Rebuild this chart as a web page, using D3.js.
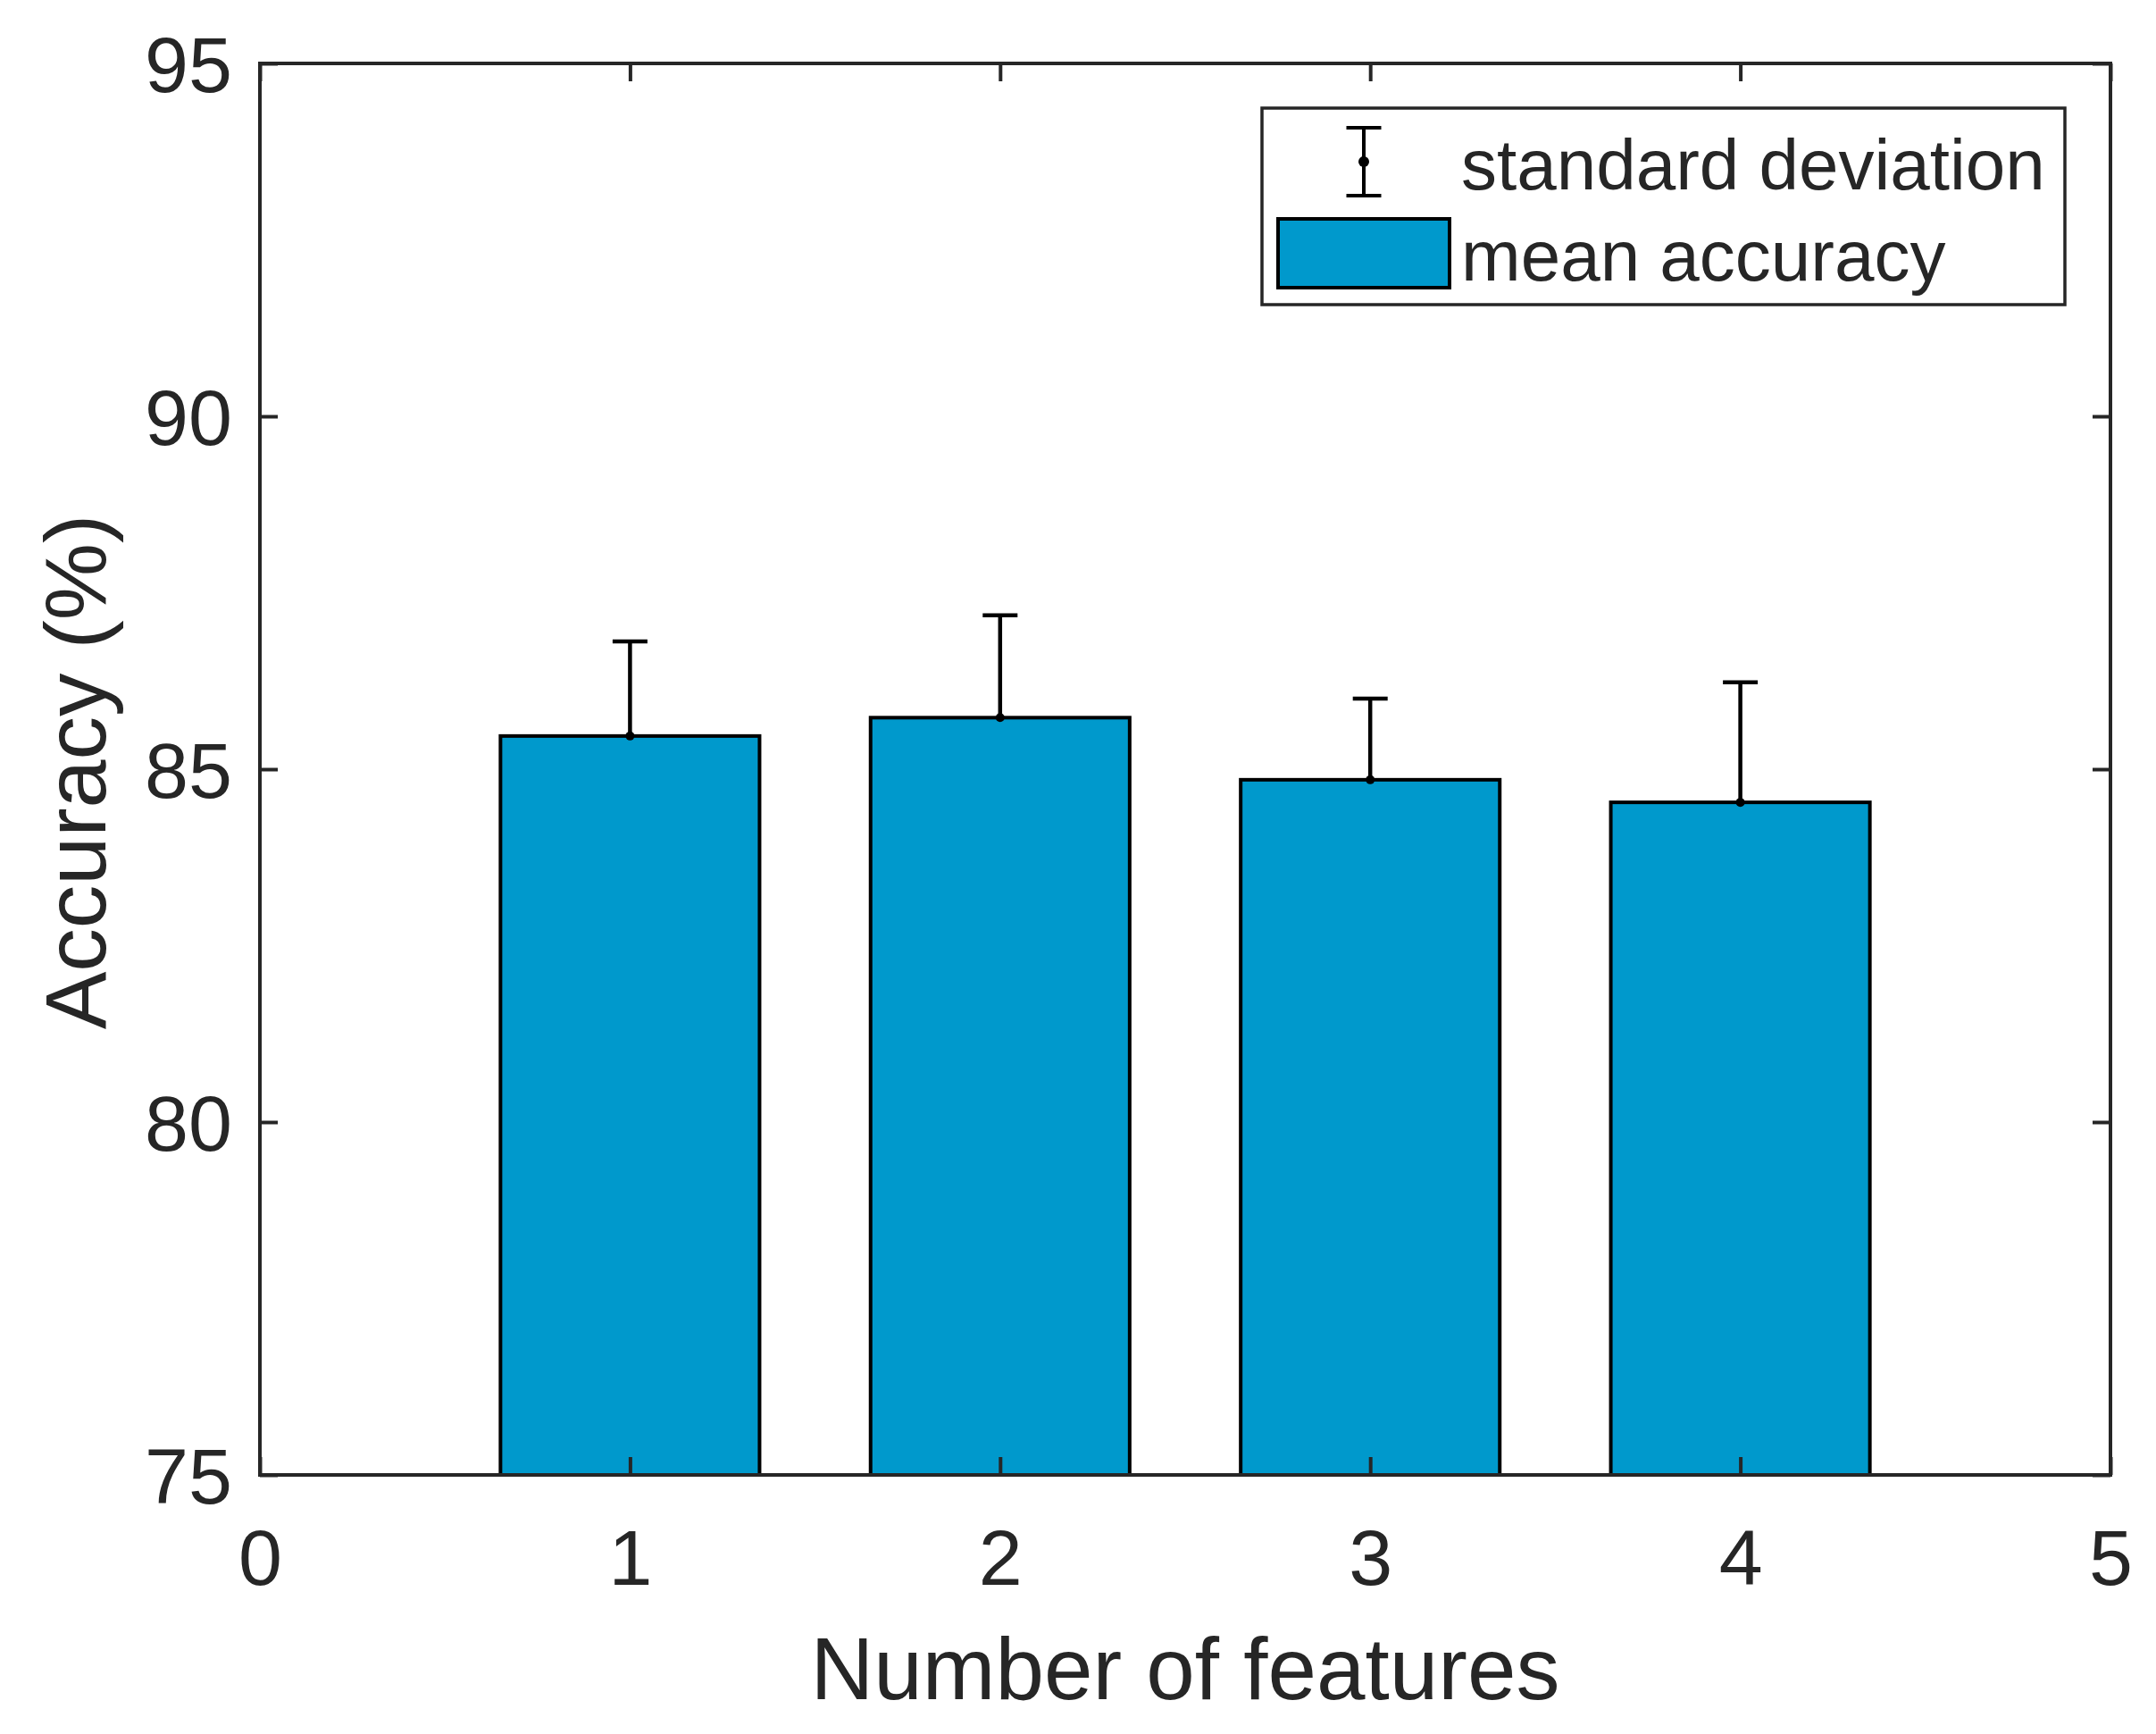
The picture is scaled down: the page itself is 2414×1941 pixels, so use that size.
<!DOCTYPE html>
<html>
<head>
<meta charset="utf-8">
<script src="https://cdn.jsdelivr.net/npm/d3@7"></script>
<style>
  html, body { margin: 0; padding: 0; background: #fff; }
  svg { display: block; }
  text { font-family: "Liberation Sans", Arial, Helvetica, sans-serif; fill: #262626; }
</style>
</head>
<body>
<svg id="chart" width="2414" height="1941"></svg>
<script>
// ---- data ----
const categories = [1, 2, 3, 4];
const meanAccuracy = [85.47, 85.73, 84.85, 84.53];
const stdDeviation = [1.34, 1.45, 1.15, 1.70];
const xTicks = [0, 1, 2, 3, 4, 5];
const yTicks = [75, 80, 85, 90, 95];
const legendLabels = ["standard deviation", "mean accuracy"];

// ---- layout ----
const plot = { left: 291, right: 2363, top: 71, bottom: 1651 };
const axisColor = "#262626";
const barColor = "#0099cc";

const svg = d3.select("#chart");

const x = d3.scaleLinear().domain([0, 5]).range([plot.left, plot.right]);
const y = d3.scaleLinear().domain([75, 95]).range([plot.bottom, plot.top]);
const barW = x(0.7) - x(0);

// bars
svg.append("g").selectAll("rect")
  .data(categories)
  .join("rect")
  .attr("x", (d) => x(d) - barW / 2)
  .attr("y", (d, i) => y(meanAccuracy[i]))
  .attr("width", barW)
  .attr("height", (d, i) => y(75) - y(meanAccuracy[i]))
  .attr("fill", barColor)
  .attr("stroke", "#000")
  .attr("stroke-width", 4);

// error bars (upper)
const eb = svg.append("g");
const capHalf = 19.5;
categories.forEach((c, i) => {
  const cx = x(c);
  const y0 = y(meanAccuracy[i]);
  const y1 = y(meanAccuracy[i] + stdDeviation[i]);
  eb.append("line").attr("x1", cx).attr("x2", cx).attr("y1", y0).attr("y2", y1)
    .attr("stroke", "#000").attr("stroke-width", 4.5);
  eb.append("line").attr("x1", cx - capHalf).attr("x2", cx + capHalf).attr("y1", y1).attr("y2", y1)
    .attr("stroke", "#000").attr("stroke-width", 4.5);
  eb.append("circle").attr("cx", cx).attr("cy", y0).attr("r", 5).attr("fill", "#000");
});

// axes
const tickFont = 88;
const xAxis = d3.axisBottom(x).tickValues(xTicks).tickFormat(d3.format("d"))
  .tickSizeInner(-20).tickSizeOuter(0).tickPadding(61);
const xTop = d3.axisTop(x).tickValues(xTicks).tickFormat("")
  .tickSizeInner(-20).tickSizeOuter(0);
const yAxis = d3.axisLeft(y).tickValues(yTicks).tickFormat(d3.format("d"))
  .tickSizeInner(-20).tickSizeOuter(0).tickPadding(31);
const yRight = d3.axisRight(y).tickValues(yTicks).tickFormat("")
  .tickSizeInner(-20).tickSizeOuter(0);

function styleAxis(g) {
  g.select(".domain").remove();
  g.selectAll(".tick line").attr("stroke", axisColor).attr("stroke-width", 4);
  g.selectAll(".tick text").attr("fill", axisColor)
    .style("font-size", tickFont + "px")
    .style("font-family", '"Liberation Sans", Arial, Helvetica, sans-serif');
}

svg.append("g").attr("transform", `translate(0,${plot.bottom})`).call(xAxis).call(styleAxis);
svg.append("g").attr("transform", `translate(0,${plot.top})`).call(xTop).call(styleAxis);
const gy = svg.append("g").attr("transform", `translate(${plot.left},0)`).call(yAxis).call(styleAxis);
gy.selectAll(".tick text").attr("dy", "0.36em");
svg.append("g").attr("transform", `translate(${plot.right},0)`).call(yRight).call(styleAxis);

// frame
svg.append("rect")
  .attr("x", plot.left).attr("y", plot.top)
  .attr("width", plot.right - plot.left).attr("height", plot.bottom - plot.top)
  .attr("fill", "none").attr("stroke", axisColor).attr("stroke-width", 4);

// axis labels
svg.append("text")
  .attr("x", (plot.left + plot.right) / 2).attr("y", 1902)
  .attr("text-anchor", "middle")
  .style("font-size", "98px")
  .text("Number of features");

svg.append("text")
  .attr("transform", `translate(118,${(plot.top + plot.bottom) / 2 + 3}) rotate(-90)`)
  .attr("text-anchor", "middle")
  .style("font-size", "97px")
  .text("Accuracy (%)");

// legend
const lg = svg.append("g");
lg.append("rect").attr("x", 1413).attr("y", 121).attr("width", 2312 - 1413).attr("height", 341 - 121)
  .attr("fill", "#fff").attr("stroke", axisColor).attr("stroke-width", 3.5);
// error bar symbol
const lx = 1527;
lg.append("line").attr("x1", lx).attr("x2", lx).attr("y1", 143).attr("y2", 219).attr("stroke", "#000").attr("stroke-width", 4);
lg.append("line").attr("x1", lx - capHalf).attr("x2", lx + capHalf).attr("y1", 143).attr("y2", 143).attr("stroke", "#000").attr("stroke-width", 4);
lg.append("line").attr("x1", lx - capHalf).attr("x2", lx + capHalf).attr("y1", 219).attr("y2", 219).attr("stroke", "#000").attr("stroke-width", 4);
lg.append("circle").attr("cx", lx).attr("cy", 181).attr("r", 6).attr("fill", "#000");
// patch
lg.append("rect").attr("x", 1431).attr("y", 245).attr("width", 1623 - 1431).attr("height", 322 - 245)
  .attr("fill", barColor).attr("stroke", "#000").attr("stroke-width", 4);
lg.selectAll("text.leg").data(legendLabels).join("text")
  .attr("class", "leg")
  .attr("x", 1636)
  .attr("y", (d, i) => i === 0 ? 212 : 314)
  .style("font-size", "80px")
  .text((d) => d);
</script>
</body>
</html>
